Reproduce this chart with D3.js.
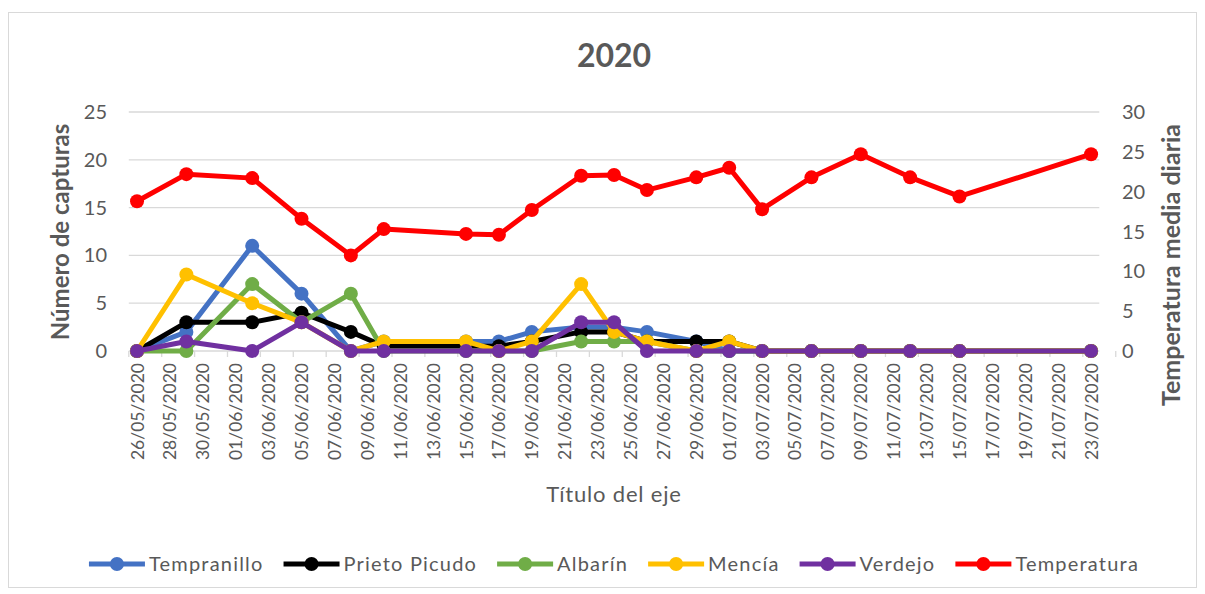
<!DOCTYPE html>
<html>
<head>
<meta charset="utf-8">
<script src="https://cdn.jsdelivr.net/npm/d3@7"></script>
<style>
  body { margin: 0; background: #fff; }
  text { font-family: Lato, "Open Sans", sans-serif; fill: #595959; }
</style>
</head>
<body>
<div id="chart"></div>
<script>
// capture dates (dd/mm/yyyy)
var dates = ["26/05/2020", "29/05/2020", "02/06/2020", "05/06/2020", "08/06/2020",
    "10/06/2020", "15/06/2020", "17/06/2020", "19/06/2020", "22/06/2020",
    "24/06/2020", "26/06/2020", "29/06/2020", "01/07/2020", "03/07/2020",
    "06/07/2020", "09/07/2020", "12/07/2020", "15/07/2020", "23/07/2020"];

var tempranillo  = [0, 2, 11, 6, 0, 1, 1, 1, 2, 2.5, 2.5, 2, 1, 0, 0, 0, 0, 0, 0, 0];
var prietoPicudo = [0, 3, 3, 4, 2, 0.5, 0.5, 0.5, 1, 2, 2, 1, 1, 1, 0, 0, 0, 0, 0, 0];
var albarin      = [0, 0, 7, 3, 6, 0, 0, 0, 0, 1, 1, 1, 0, 0, 0, 0, 0, 0, 0, 0];
var mencia       = [0, 8, 5, 3, 0, 1, 1, 0, 1, 7, 2, 1, 0, 1, 0, 0, 0, 0, 0, 0];
var verdejo      = [0, 1, 0, 3, 0, 0, 0, 0, 0, 3, 3, 0, 0, 0, 0, 0, 0, 0, 0, 0];
var temperatura  = [18.8, 22.2, 21.7, 16.6, 12.0, 15.3, 14.7, 14.6, 17.7, 22.0,
    22.1, 20.2, 21.8, 23.0, 17.8, 21.8, 24.7, 21.8, 19.4, 24.7];

var leftTicks = [0, 5, 10, 15, 20, 25];
var rightTicks = [0, 5, 10, 15, 20, 25, 30];

var series = [
    {name: "Tempranillo", values: tempranillo, color: "#4472C4", axis: "left"},
    {name: "Prieto Picudo", values: prietoPicudo, color: "#000000", axis: "left"},
    {name: "Albarín", values: albarin, color: "#70AD47", axis: "left"},
    {name: "Mencía", values: mencia, color: "#FFC000", axis: "left"},
    {name: "Verdejo", values: verdejo, color: "#7030A0", axis: "left"},
    {name: "Temperatura", values: temperatura, color: "#FF0000", axis: "right"}
];

var width = 1205, height = 594;
var parse = d3.utcParse("%d/%m/%Y");
var fmt = d3.utcFormat("%d/%m/%Y");
var first = parse(dates[0]), last = parse(dates[dates.length - 1]);

var plot = {left: 128.8, right: 1099.3, top: 112, bottom: 351};

// each day is a slot, points sit in the middle of their slot
var x = d3.scaleUtc()
    .domain([d3.utcHour.offset(first, -12), d3.utcHour.offset(last, 12)])
    .range([plot.left, plot.right]);
var yLeft = d3.scaleLinear().domain([0, 25]).range([plot.bottom, plot.top]);
var yRight = d3.scaleLinear().domain([0, 30]).range([plot.bottom, plot.top]);

var svg = d3.select("#chart").append("svg")
    .attr("width", width)
    .attr("height", height);

// chart border
svg.append("rect")
    .attr("x", 8.5).attr("y", 12.5)
    .attr("width", 1188).attr("height", 575)
    .attr("fill", "none")
    .attr("stroke", "#d9d9d9");

svg.append("text")
    .attr("x", 614).attr("y", 67)
    .attr("text-anchor", "middle")
    .attr("font-size", "32px")
    .attr("font-weight", "bold")
    .text("2020");

// horizontal gridlines
svg.append("g").selectAll("line")
    .data(leftTicks)
    .enter().append("line")
    .attr("x1", plot.left).attr("x2", plot.right)
    .attr("y1", function (d) { return yLeft(d); })
    .attr("y2", function (d) { return yLeft(d); })
    .attr("stroke", "#d9d9d9")
    .attr("stroke-width", 1.3);

// x axis tick marks on slot boundaries, labels every 2 days
var labelDays = d3.utcDay.range(first, d3.utcDay.offset(last, 1), 2);
var gx = svg.append("g");
gx.selectAll("line.tick")
    .data(labelDays.concat([d3.utcDay.offset(last, 2)]))
    .enter().append("line")
    .attr("x1", function (d) { return x(d3.utcHour.offset(d, -12)); })
    .attr("x2", function (d) { return x(d3.utcHour.offset(d, -12)); })
    .attr("y1", plot.bottom).attr("y2", plot.bottom + 6)
    .attr("stroke", "#d9d9d9")
    .attr("stroke-width", 1.3);
gx.selectAll("text")
    .data(labelDays)
    .enter().append("text")
    .attr("transform", function (d) {
        return "translate(" + (x(d) + 6.5) + "," + (plot.bottom + 12) + ") rotate(-90)";
    })
    .attr("text-anchor", "end")
    .attr("font-size", "17.5px")
    .text(function (d) { return fmt(d); });

// y tick labels
svg.append("g").selectAll("text")
    .data(leftTicks)
    .enter().append("text")
    .attr("x", 107)
    .attr("y", function (d) { return yLeft(d) + 7; })
    .attr("text-anchor", "end")
    .attr("font-size", "20px")
    .text(function (d) { return d; });
svg.append("g").selectAll("text")
    .data(rightTicks)
    .enter().append("text")
    .attr("x", 1122)
    .attr("y", function (d) { return yRight(d) + 7; })
    .attr("font-size", "20px")
    .text(function (d) { return d; });

// axis titles
svg.append("text")
    .attr("transform", "translate(69,232) rotate(-90)")
    .attr("text-anchor", "middle")
    .attr("font-size", "24px")
    .attr("font-weight", "bold")
    .text("Número de capturas");
svg.append("text")
    .attr("transform", "translate(1180,265) rotate(-90)")
    .attr("text-anchor", "middle")
    .attr("font-size", "25px")
    .attr("font-weight", "bold")
    .text("Temperatura media diaria");
svg.append("text")
    .attr("x", 614).attr("y", 502)
    .attr("text-anchor", "middle")
    .attr("font-size", "22px")
    .attr("letter-spacing", "0.8px")
    .text("Título del eje");

// series
series.forEach(function (s) {
    var yScale = s.axis === "left" ? yLeft : yRight;
    var pts = s.values.map(function (v, i) { return [x(parse(dates[i])), yScale(v)]; });
    var g = svg.append("g").attr("class", "series");
    g.append("path")
        .attr("d", d3.line()(pts))
        .attr("fill", "none")
        .attr("stroke", s.color)
        .attr("stroke-width", 5)
        .attr("stroke-linejoin", "round");
    g.selectAll("circle")
        .data(pts)
        .enter().append("circle")
        .attr("cx", function (d) { return d[0]; })
        .attr("cy", function (d) { return d[1]; })
        .attr("r", 7)
        .attr("fill", s.color);
});

// legend
var legend = svg.append("g");
var items = legend.selectAll("g")
    .data(series)
    .enter().append("g");
items.append("line")
    .attr("x1", 0).attr("x2", 56)
    .attr("y1", 0).attr("y2", 0)
    .attr("stroke", function (d) { return d.color; })
    .attr("stroke-width", 5);
items.append("circle")
    .attr("cx", 28).attr("cy", 0).attr("r", 7)
    .attr("fill", function (d) { return d.color; });
items.append("text")
    .attr("x", 60).attr("y", 7)
    .attr("font-size", "20px")
    .attr("letter-spacing", "1.2px")
    .text(function (d) { return d.name; });
var pos = 0;
items.each(function () {
    var w = d3.select(this).select("text").node().getComputedTextLength();
    this._x = pos;
    pos += 60 + w + 20;
});
var total = pos - 20;
items.attr("transform", function () {
    return "translate(" + (614 - total / 2 + this._x) + ",564)";
});
</script>
</body>
</html>
